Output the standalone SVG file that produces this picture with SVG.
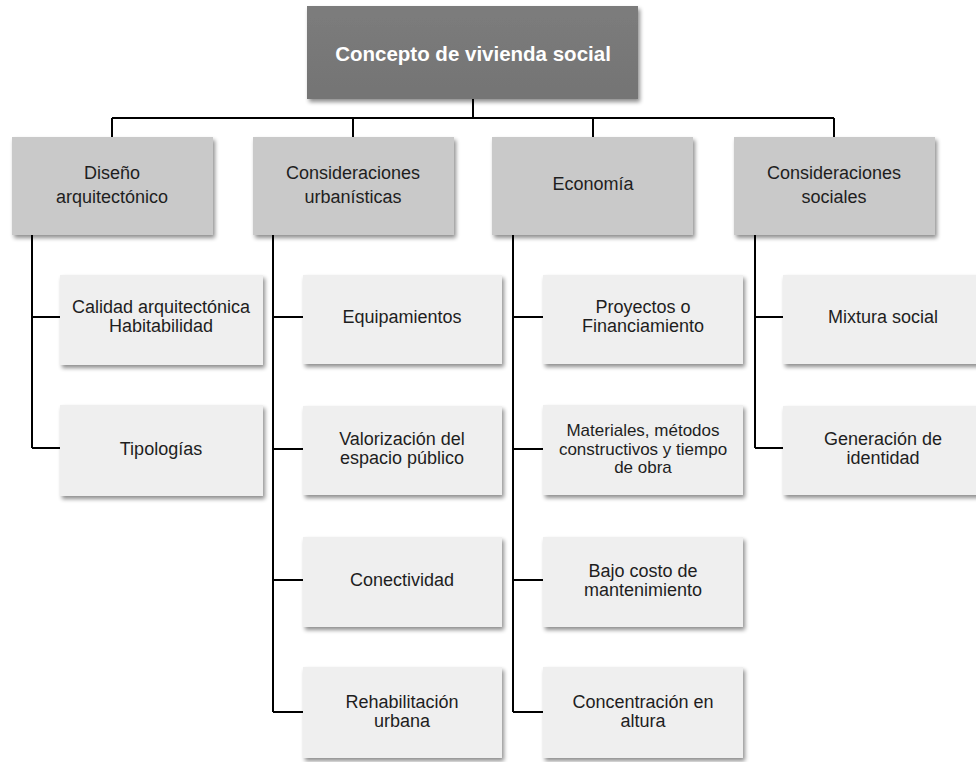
<svg xmlns="http://www.w3.org/2000/svg" width="976" height="762" viewBox="0 0 976 762">
<defs>
<filter id="sh" x="-10%" y="-10%" width="125%" height="130%">
<feGaussianBlur in="SourceAlpha" stdDeviation="2"/>
<feOffset dx="2" dy="3" result="b"/>
<feComponentTransfer><feFuncA type="linear" slope="0.45"/></feComponentTransfer>
<feMerge><feMergeNode/><feMergeNode in="SourceGraphic"/></feMerge>
</filter>
<linearGradient id="gTop" x1="0" y1="0" x2="0" y2="1">
<stop offset="0" stop-color="#7c7c7c"/><stop offset="1" stop-color="#747474"/>
</linearGradient>
</defs>
<style>
text{font-family:"Liberation Sans",Arial,sans-serif;text-anchor:middle}
.top{fill:url(#gTop)}
.l2{fill:#c9c9c9}
.l3{fill:#efefef}
.t1{font-size:20.5px;font-weight:bold;fill:#ffffff}
.t2{font-size:18px;fill:#1e1e1e}
.t3{font-size:18px;fill:#1e1e1e}
.t3s{font-size:17px;fill:#1e1e1e}
.c{stroke:#000;stroke-width:2;fill:none}
</style>
<rect width="976" height="762" fill="#ffffff"/>
<g id="connectors" class="c">
<path d="M473 99V118M112 118H834M112 118V137M353 118V137M593 118V137M834 118V137"/>
<path d="M32 235V448M32 317H60M32 448H60"/>
<path d="M273 235V712M273 317H303M273 449H303M273 580H303M273 712H303"/>
<path d="M513 235V712M513 317H543M513 449H543M513 580H543M513 712H543"/>
<path d="M755 235V448M755 317H783M755 448H783"/>
</g>
<g id="root"><rect class="top" x="307" y="6" width="331" height="93" filter="url(#sh)"/><text class="t1" x="473" y="61">Concepto de vivienda social</text></g>
<g id="diseno"><rect class="l2" x="12" y="137" width="201" height="98" filter="url(#sh)"/><text class="t2" x="112" y="179">Diseño</text><text class="t2" x="112" y="203">arquitectónico</text></g>
<g id="urbanisticas"><rect class="l2" x="253" y="137" width="201" height="98" filter="url(#sh)"/><text class="t2" x="353" y="179">Consideraciones</text><text class="t2" x="353" y="203">urbanísticas</text></g>
<g id="economia"><rect class="l2" x="492" y="137" width="201" height="98" filter="url(#sh)"/><text class="t2" x="593" y="190">Economía</text></g>
<g id="sociales"><rect class="l2" x="734" y="137" width="201" height="98" filter="url(#sh)"/><text class="t2" x="834" y="179">Consideraciones</text><text class="t2" x="834" y="203">sociales</text></g>

<g id="calidad"><rect class="l3" x="60" y="275" width="203" height="90" filter="url(#sh)"/><text class="t3" x="161" y="313">Calidad arquitectónica</text><text class="t3" x="161" y="332">Habitabilidad</text></g>
<g id="tipologias"><rect class="l3" x="60" y="405" width="203" height="91" filter="url(#sh)"/><text class="t3" x="161" y="455">Tipologías</text></g>

<g id="equipamientos"><rect class="l3" x="303" y="275" width="199" height="89" filter="url(#sh)"/><text class="t3" x="402" y="323">Equipamientos</text></g>
<g id="valorizacion"><rect class="l3" x="303" y="406" width="199" height="89" filter="url(#sh)"/><text class="t3" x="402" y="445">Valorización del</text><text class="t3" x="402" y="464">espacio público</text></g>
<g id="conectividad"><rect class="l3" x="303" y="537" width="199" height="90" filter="url(#sh)"/><text class="t3" x="402" y="586">Conectividad</text></g>
<g id="rehabilitacion"><rect class="l3" x="303" y="667" width="199" height="91" filter="url(#sh)"/><text class="t3" x="402" y="708">Rehabilitación</text><text class="t3" x="402" y="727">urbana</text></g>

<g id="proyectos"><rect class="l3" x="543" y="275" width="200" height="89" filter="url(#sh)"/><text class="t3" x="643" y="313">Proyectos o</text><text class="t3" x="643" y="332">Financiamiento</text></g>
<g id="materiales"><rect class="l3" x="543" y="405" width="200" height="90" filter="url(#sh)"/><text class="t3s" x="643" y="436">Materiales, métodos</text><text class="t3s" x="643" y="454.5">constructivos y tiempo</text><text class="t3s" x="643" y="473">de obra</text></g>
<g id="bajocosto"><rect class="l3" x="543" y="537" width="200" height="90" filter="url(#sh)"/><text class="t3" x="643" y="577">Bajo costo de</text><text class="t3" x="643" y="596">mantenimiento</text></g>
<g id="concentracion"><rect class="l3" x="543" y="667" width="200" height="91" filter="url(#sh)"/><text class="t3" x="643" y="708">Concentración en</text><text class="t3" x="643" y="727">altura</text></g>

<g id="mixtura"><rect class="l3" x="783" y="275" width="200" height="89" filter="url(#sh)"/><text class="t3" x="883" y="323">Mixtura social</text></g>
<g id="generacion"><rect class="l3" x="783" y="406" width="200" height="89" filter="url(#sh)"/><text class="t3" x="883" y="445">Generación de</text><text class="t3" x="883" y="464">identidad</text></g>
</svg>
